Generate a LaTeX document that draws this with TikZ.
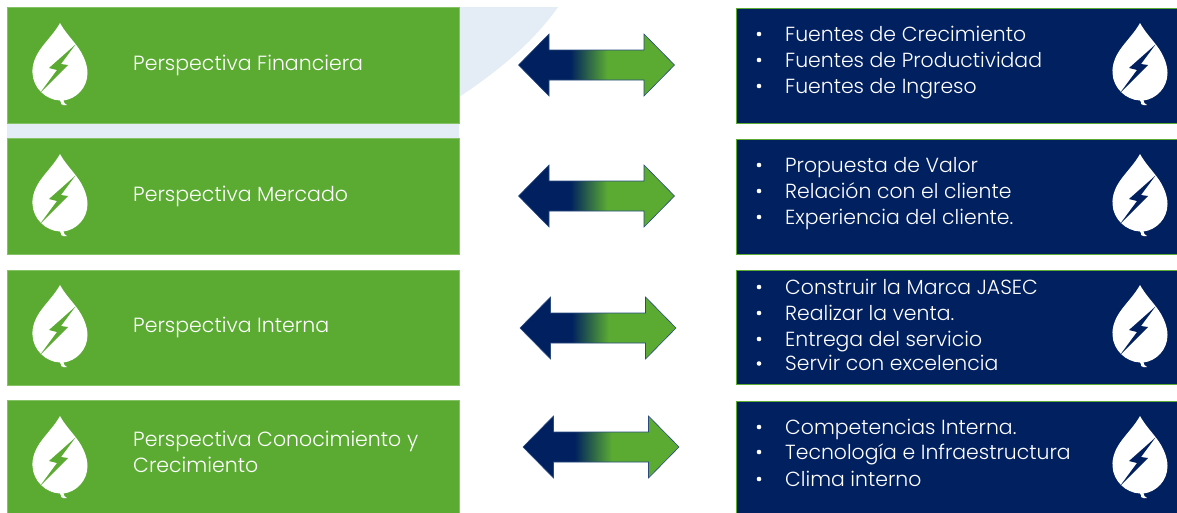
\documentclass[tikz,border=0pt]{standalone}
\usepackage{fontspec}
\setmainfont{Poppins Light}
\definecolor{grn}{HTML}{5BAB33}
\definecolor{nvy}{HTML}{00205F}
\definecolor{pale}{HTML}{E4ECF5}
\definecolor{edgeg}{HTML}{85C266}
\definecolor{arrowedge}{HTML}{2A4A80}
\pgfdeclarehorizontalshading{arrowgrad}{100bp}{color(0bp)=(nvy); color(41.5bp)=(nvy); color(53.5bp)=(grn); color(100bp)=(grn)}
\tikzset{
  x=1pt,y=-1pt,
  greenbox/.style={fill=grn,draw=edgeg,line width=.6pt,minimum width=451.5pt,anchor=north west,inner sep=0pt},
  navybox/.style={fill=nvy,draw=grn,line width=1.2pt,anchor=north west,inner sep=0pt},
  ltext/.style={text=white,font=\fontsize{20.5}{26}\selectfont,anchor=base west,align=left,inner sep=0pt},
  rtext/.style={text=white,font=\fontsize{20.4}{26}\selectfont,anchor=base west,inner sep=0pt},
  bull/.style={circle,fill=white,draw=none,minimum size=4.6pt,inner sep=0pt},
}
\newcommand{\drop}[3]{% x, y of top, bolt colour
  \begin{scope}[shift={(#1,#2)}]
  \fill[white] (0,0) .. controls (-5,9) and (-12,16) .. (-18,24)
    .. controls (-25,33) and (-28,42) .. (-27.5,50)
    .. controls (-27,65) and (-14,77) .. (0,77.5)
    .. controls (1,79) and (1.5,80.5) .. (1,81) .. controls (3,82.5) and (5,82.5) .. (7,82)
    .. controls (5,81.5) and (3.5,79) .. (3.5,77.5)
    .. controls (16,76) and (27.5,65) .. (27.5,50)
    .. controls (27.5,41) and (23,31) .. (17,23)
    .. controls (11,15) and (5,9) .. (0,0) -- cycle;
  \fill[#3] (15.5,21.5) -- (-11,45) -- (-3,47) -- (-20,70) -- (8,42) -- (1,41) -- cycle;
  \end{scope}}
\newcommand{\dblarrow}[2]{% left tip x, centre y
  \begin{scope}[shift={(#1,#2)}]
  \path[shading=arrowgrad,draw=arrowedge,line width=.6pt]
   (0,0) -- (30.5,-31) -- (30.5,-15) -- (125.5,-15) -- (125.5,-31) -- (156,0) -- (125.5,31) -- (125.5,15) -- (30.5,15) -- (30.5,31) -- cycle;
  \end{scope}}
\begin{document}
\begin{tikzpicture}
\useasboundingbox (0,0) rectangle (1177,512);
\fill[white] (0,0) rectangle (1177,512);
% pale background shape
\fill[pale] (459,7) -- (558,7) .. controls (535,40) and (500,70) .. (459,97) -- cycle;
\fill[pale] (7,123) rectangle (459,138);
% green boxes
\node[greenbox,minimum height=116pt] (g1) at (7,7) {};
\node[greenbox,minimum height=116pt] (g2) at (7,138) {};
\node[greenbox,minimum height=115pt] (g3) at (7,269.5) {};
\node[greenbox,minimum height=113pt] (g4) at (7,400) {};
% navy boxes
\node[navybox,minimum width=442pt,minimum height=115pt] (n1) at (736,8) {};
\node[navybox,minimum width=442pt,minimum height=115pt] (n2) at (736,139) {};
\node[navybox,minimum width=442pt,minimum height=114pt] (n3) at (736,270) {};
\node[navybox,minimum width=442pt,minimum height=113pt] (n4) at (736,401) {};
% drops
\drop{60}{23}{grn}
\drop{60}{154}{grn}
\drop{60}{285}{grn}
\drop{60}{416}{grn}
\drop{1140}{23}{nvy}
\drop{1140}{154}{nvy}
\drop{1140}{285}{nvy}
\drop{1140}{416}{nvy}
% arrows
\dblarrow{518.5}{65}
\dblarrow{518.5}{196}
\dblarrow{520}{328}
\dblarrow{523}{447}
% left labels
\node[ltext] (l1) at (133,70.5) {Perspectiva Financiera};
\node[ltext] (l2) at (133,201) {Perspectiva Mercado};
\node[ltext] (l3) at (133,332.5) {Perspectiva Interna};
\node[ltext] (l4a) at (133,446) {Perspectiva Conocimiento y};
\node[ltext] (l4b) at (133,472) {Crecimiento};
% right lists
\foreach \yy/\tx in {41/Fuentes de Crecimiento,67/Fuentes de Productividad,93/Fuentes de Ingreso,
  172/Propuesta de Valor,198/Relación con el cliente,224/Experiencia del cliente.,
  294/Construir la Marca JASEC,320/Realizar la venta.,346/Entrega del servicio,370.5/Servir con excelencia,
  434/Competencias Interna.,459/Tecnología e Infraestructura,486/Clima interno}{
  \node[bull] at (759,\yy-7) {};
  \node[rtext] at (785,\yy) {\tx};
}
\end{tikzpicture}
\end{document}
